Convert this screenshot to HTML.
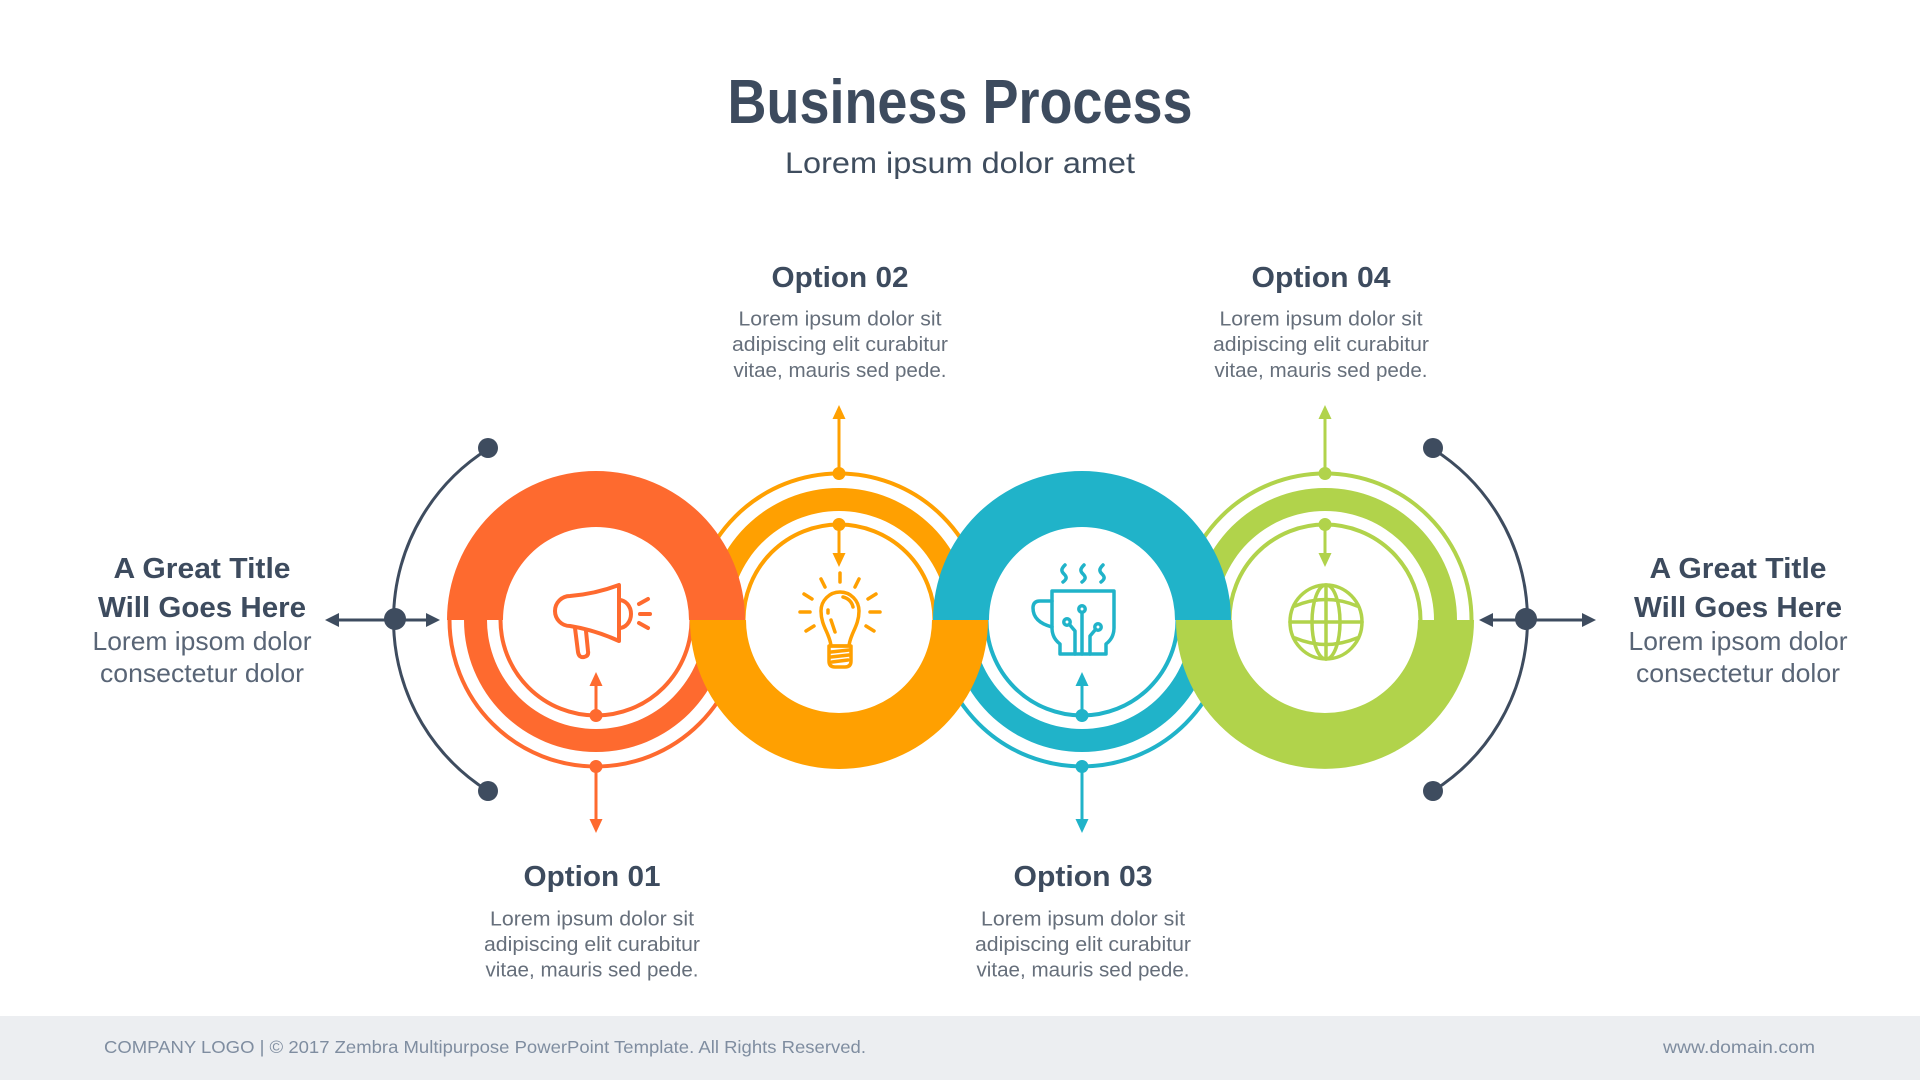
<!DOCTYPE html>
<html>
<head>
<meta charset="utf-8">
<style>
  html,body{margin:0;padding:0;background:#fff;}
  body{width:1920px;height:1080px;overflow:hidden;}
  svg{display:block;}
  text{font-family:"Liberation Sans", Arial, sans-serif;}
</style>
</head>
<body>
<svg width="1920" height="1080" viewBox="0 0 1920 1080" xmlns="http://www.w3.org/2000/svg">
  <rect x="0" y="0" width="1920" height="1080" fill="#ffffff"/>

  <!-- Title -->
  <text x="960" y="123" font-size="62" font-weight="bold" fill="#3D4B5E" text-anchor="middle" textLength="465" lengthAdjust="spacingAndGlyphs">Business Process</text>
  <text x="960" y="173" font-size="30" fill="#3F4D5E" text-anchor="middle" textLength="350" lengthAdjust="spacingAndGlyphs">Lorem ipsum dolor amet</text>

  <!-- ===== Split halves (drawn first) ===== -->
  <g fill="#FE6A2F" stroke="none">
    <path d="M464,620 A132,132 0 0 0 728,620 L705,620 A109,109 0 0 1 487,620 Z"/>
  </g>
  <g fill="none" stroke="#FE6A2F" stroke-width="4">
    <path d="M449.5,620 A146.5,146.5 0 0 0 742.5,620"/>
    <path d="M500.5,620 A95.5,95.5 0 0 0 691.5,620"/>
  </g>
  <g fill="#FFA001">
    <path d="M707,620 A132,132 0 0 1 971,620 L948,620 A109,109 0 0 0 730,620 Z"/>
  </g>
  <g fill="none" stroke="#FFA001" stroke-width="4">
    <path d="M692.5,620 A146.5,146.5 0 0 1 985.5,620"/>
    <path d="M743.5,620 A95.5,95.5 0 0 1 934.5,620"/>
  </g>
  <g fill="#20B3C9">
    <path d="M950,620 A132,132 0 0 0 1214,620 L1191,620 A109,109 0 0 1 973,620 Z"/>
  </g>
  <g fill="none" stroke="#20B3C9" stroke-width="4">
    <path d="M935.5,620 A146.5,146.5 0 0 0 1228.5,620"/>
    <path d="M986.5,620 A95.5,95.5 0 0 0 1177.5,620"/>
  </g>
  <g fill="#B1D34B">
    <path d="M1193,620 A132,132 0 0 1 1457,620 L1434,620 A109,109 0 0 0 1216,620 Z"/>
  </g>
  <g fill="none" stroke="#B1D34B" stroke-width="4">
    <path d="M1178.5,620 A146.5,146.5 0 0 1 1471.5,620"/>
    <path d="M1229.5,620 A95.5,95.5 0 0 1 1420.5,620"/>
  </g>

  <!-- ===== Solid halves ===== -->
  <path fill="#FE6A2F" d="M447,620 A149,149 0 0 1 745,620 L689,620 A93,93 0 0 0 503,620 Z"/>
  <path fill="#FFA001" d="M690,620 A149,149 0 0 0 988,620 L932,620 A93,93 0 0 1 746,620 Z"/>
  <path fill="#20B3C9" d="M933,620 A149,149 0 0 1 1231,620 L1175,620 A93,93 0 0 0 989,620 Z"/>
  <path fill="#B1D34B" d="M1176,620 A149,149 0 0 0 1474,620 L1418,620 A93,93 0 0 1 1232,620 Z"/>

  <!-- ===== Dots & arrows ===== -->
  <g fill="#FE6A2F" stroke="#FE6A2F">
    <circle cx="596" cy="715.5" r="6.5" stroke="none"/>
    <line x1="596" y1="715" x2="596" y2="685" stroke-width="3"/>
    <polygon points="596,672 589.5,686 602.5,686" stroke="none"/>
    <circle cx="596" cy="766.5" r="6.5" stroke="none"/>
    <line x1="596" y1="767" x2="596" y2="820" stroke-width="3"/>
    <polygon points="596,833 589.5,819 602.5,819" stroke="none"/>
  </g>
  <g fill="#FFA001" stroke="#FFA001">
    <circle cx="839" cy="473.5" r="6.5" stroke="none"/>
    <line x1="839" y1="473" x2="839" y2="418" stroke-width="3"/>
    <polygon points="839,405 832.5,419 845.5,419" stroke="none"/>
    <circle cx="839" cy="524.5" r="6.5" stroke="none"/>
    <line x1="839" y1="525" x2="839" y2="554" stroke-width="3"/>
    <polygon points="839,567 832.5,553 845.5,553" stroke="none"/>
  </g>
  <g fill="#20B3C9" stroke="#20B3C9">
    <circle cx="1082" cy="715.5" r="6.5" stroke="none"/>
    <line x1="1082" y1="715" x2="1082" y2="685" stroke-width="3"/>
    <polygon points="1082,672 1075.5,686 1088.5,686" stroke="none"/>
    <circle cx="1082" cy="766.5" r="6.5" stroke="none"/>
    <line x1="1082" y1="767" x2="1082" y2="820" stroke-width="3"/>
    <polygon points="1082,833 1075.5,819 1088.5,819" stroke="none"/>
  </g>
  <g fill="#B1D34B" stroke="#B1D34B">
    <circle cx="1325" cy="473.5" r="6.5" stroke="none"/>
    <line x1="1325" y1="473" x2="1325" y2="418" stroke-width="3"/>
    <polygon points="1325,405 1318.5,419 1331.5,419" stroke="none"/>
    <circle cx="1325" cy="524.5" r="6.5" stroke="none"/>
    <line x1="1325" y1="525" x2="1325" y2="554" stroke-width="3"/>
    <polygon points="1325,567 1318.5,553 1331.5,553" stroke="none"/>
  </g>

  <!-- ===== Side brackets ===== -->
  <g fill="none" stroke="#3E4C5F" stroke-width="3">
    <path d="M488,449 A202,202 0 0 0 488,791"/>
    <path d="M1433,449 A202,202 0 0 1 1433,791"/>
    <line x1="335" y1="620" x2="430" y2="620"/>
    <line x1="1489" y1="620" x2="1586" y2="620"/>
  </g>
  <g fill="#3E4C5F">
    <circle cx="488" cy="448" r="10"/>
    <circle cx="488" cy="791" r="10"/>
    <circle cx="395" cy="619" r="11"/>
    <polygon points="325,620 339,613 339,627"/>
    <polygon points="440,620 426,613 426,627"/>
    <circle cx="1433" cy="448" r="10"/>
    <circle cx="1433" cy="791" r="10"/>
    <circle cx="1526" cy="619" r="11"/>
    <polygon points="1479,620 1493,613 1493,627"/>
    <polygon points="1596,620 1582,613 1582,627"/>
  </g>

  <!-- ===== Icons ===== -->
  <g fill="none" stroke="#FE6A2F" stroke-width="4" stroke-linejoin="round" stroke-linecap="round">
    <path d="M570,596 Q595,594 619,585 L619,641 Q595,630 570,626 A15,15 0 0 1 570,596 Z"/>
    <path d="M619,600 A12,14 0 0 1 619,628"/>
    <path d="M575,628 L578,652 Q579,658 584,657 Q589,656 588,651 L586,631"/>
    <path d="M639,604 L648,599"/>
    <path d="M640,614 L650,614"/>
    <path d="M639,623 L648,628"/>
  </g>
  <g fill="none" stroke="#FFA001" stroke-width="3.5" stroke-linejoin="round" stroke-linecap="round">
    <path d="M831,646 C830,634 821,626 821,611 A19,19 0 0 1 859,611 C859,626 850,634 849,646 Z"/>
    <path d="M829,646 L851,646 L851,661 Q851,667 845,667 L835,667 Q829,667 829,661 Z"/>
    <path d="M831,652 L849,650 M831,657 L849,655 M832,662 L848,660"/>
    <path d="M843,597 A13,13 0 0 1 853,607"/>
    <path d="M828,610 L828,613"/>
    <path d="M831,620 L835,632"/>
    <path d="M840,573 L840,582"/>
    <path d="M821,579 L825,587"/>
    <path d="M859,579 L855,587"/>
    <path d="M804,594 L812,599"/>
    <path d="M876,594 L868,599"/>
    <path d="M800,612 L810,612"/>
    <path d="M870,612 L880,612"/>
    <path d="M806,631 L814,626"/>
    <path d="M874,631 L866,626"/>
  </g>
  <g fill="none" stroke="#20B3C9" stroke-width="3.5" stroke-linejoin="round" stroke-linecap="round">
    <path d="M1065,565 C1061,569 1061,571 1064,574 C1067,577 1067,579 1063,582"/>
    <path d="M1084,565 C1080,569 1080,571 1083,574 C1086,577 1086,579 1082,582"/>
    <path d="M1103,565 C1099,569 1099,571 1102,574 C1105,577 1105,579 1101,582"/>
    <path d="M1052,591 L1114,591 L1114,628 Q1114,638 1106,644 L1106,654 L1060,654 L1060,644 Q1052,638 1052,628 Z"/>
    <path d="M1052,601 L1040,601 Q1033,601 1033,608 Q1033,622 1052,627"/>
    <circle cx="1082" cy="609" r="3.2"/>
    <path d="M1082,612.5 L1082,654"/>
    <circle cx="1067" cy="622" r="3.2"/>
    <path d="M1069.5,624.5 L1075,631 L1075,654"/>
    <circle cx="1098" cy="627" r="3.2"/>
    <path d="M1095.5,629.5 L1090,636 L1090,654"/>
  </g>
  <g fill="none" stroke="#B1D34B" stroke-width="3.5" stroke-linecap="round">
    <ellipse cx="1326" cy="622" rx="36" ry="37"/>
    <ellipse cx="1326" cy="622" rx="14" ry="37"/>
    <line x1="1326" y1="585" x2="1326" y2="659"/>
    <line x1="1290" y1="622" x2="1362" y2="622"/>
    <path d="M1295,606 Q1326,593 1357,606"/>
    <path d="M1295,638 Q1326,651 1357,638"/>
  </g>

  <!-- ===== Option texts ===== -->
  <g text-anchor="middle">
    <text x="840" y="287" font-size="29" font-weight="bold" fill="#3D4B5E" textLength="137" lengthAdjust="spacingAndGlyphs">Option 02</text>
    <g font-size="20.5" fill="#666F7B">
      <text x="840" y="325.5" textLength="203" lengthAdjust="spacingAndGlyphs">Lorem ipsum dolor sit</text>
      <text x="840" y="351" textLength="216" lengthAdjust="spacingAndGlyphs">adipiscing elit curabitur</text>
      <text x="840" y="377" textLength="213" lengthAdjust="spacingAndGlyphs">vitae, mauris sed pede.</text>
    </g>

    <text x="1321" y="287" font-size="29" font-weight="bold" fill="#3D4B5E" textLength="139" lengthAdjust="spacingAndGlyphs">Option 04</text>
    <g font-size="20.5" fill="#666F7B">
      <text x="1321" y="325.5" textLength="203" lengthAdjust="spacingAndGlyphs">Lorem ipsum dolor sit</text>
      <text x="1321" y="351" textLength="216" lengthAdjust="spacingAndGlyphs">adipiscing elit curabitur</text>
      <text x="1321" y="377" textLength="213" lengthAdjust="spacingAndGlyphs">vitae, mauris sed pede.</text>
    </g>

    <text x="592" y="886" font-size="29" font-weight="bold" fill="#3D4B5E" textLength="137" lengthAdjust="spacingAndGlyphs">Option 01</text>
    <g font-size="20.5" fill="#666F7B">
      <text x="592" y="925.5" textLength="204" lengthAdjust="spacingAndGlyphs">Lorem ipsum dolor sit</text>
      <text x="592" y="951" textLength="216" lengthAdjust="spacingAndGlyphs">adipiscing elit curabitur</text>
      <text x="592" y="976.5" textLength="213" lengthAdjust="spacingAndGlyphs">vitae, mauris sed pede.</text>
    </g>

    <text x="1083" y="886" font-size="29" font-weight="bold" fill="#3D4B5E" textLength="139" lengthAdjust="spacingAndGlyphs">Option 03</text>
    <g font-size="20.5" fill="#666F7B">
      <text x="1083" y="925.5" textLength="204" lengthAdjust="spacingAndGlyphs">Lorem ipsum dolor sit</text>
      <text x="1083" y="951" textLength="216" lengthAdjust="spacingAndGlyphs">adipiscing elit curabitur</text>
      <text x="1083" y="976.5" textLength="213" lengthAdjust="spacingAndGlyphs">vitae, mauris sed pede.</text>
    </g>

    <text x="202" y="578" font-size="29" font-weight="bold" fill="#3D4B5E" textLength="177" lengthAdjust="spacingAndGlyphs">A Great Title</text>
    <text x="202" y="617" font-size="29" font-weight="bold" fill="#3D4B5E" textLength="208" lengthAdjust="spacingAndGlyphs">Will Goes Here</text>
    <text x="202" y="650" font-size="26" fill="#596576" textLength="219" lengthAdjust="spacingAndGlyphs">Lorem ipsom dolor</text>
    <text x="202" y="682" font-size="26" fill="#596576" textLength="204" lengthAdjust="spacingAndGlyphs">consectetur dolor</text>

    <text x="1738" y="578" font-size="29" font-weight="bold" fill="#3D4B5E" textLength="177" lengthAdjust="spacingAndGlyphs">A Great Title</text>
    <text x="1738" y="617" font-size="29" font-weight="bold" fill="#3D4B5E" textLength="208" lengthAdjust="spacingAndGlyphs">Will Goes Here</text>
    <text x="1738" y="650" font-size="26" fill="#596576" textLength="219" lengthAdjust="spacingAndGlyphs">Lorem ipsom dolor</text>
    <text x="1738" y="682" font-size="26" fill="#596576" textLength="204" lengthAdjust="spacingAndGlyphs">consectetur dolor</text>
  </g>

  <!-- ===== Footer ===== -->
  <rect x="0" y="1016" width="1920" height="64" fill="#ECEEF1"/>
  <text x="104" y="1053" font-size="17.5" fill="#7F8DA0" textLength="762" lengthAdjust="spacingAndGlyphs">COMPANY LOGO | © 2017 Zembra Multipurpose PowerPoint Template. All Rights Reserved.</text>
  <text x="1815" y="1053" font-size="17.5" fill="#7F8DA0" text-anchor="end" textLength="152" lengthAdjust="spacingAndGlyphs">www.domain.com</text>
</svg>
</body>
</html>
